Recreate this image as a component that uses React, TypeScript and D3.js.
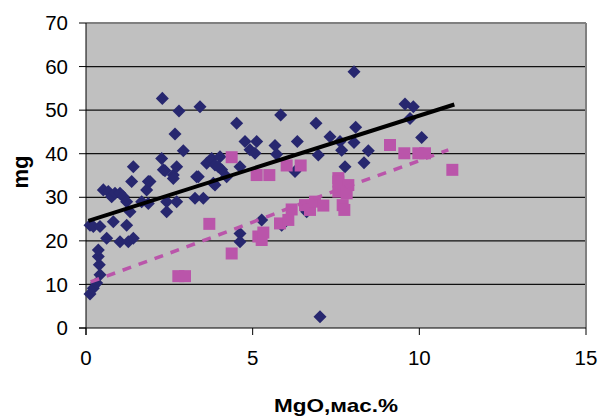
import React from "react";
import * as d3 from "d3";

// blue diamonds: [MgO, mg]
const diamondX = [
  0.12, 0.22, 0.32, 0.42, 0.4, 0.37, 0.37, 0.12, 0.22, 0.42, 0.62, 0.52, 0.67, 0.77, 0.87,
  1.02, 1.12, 1.22, 1.32, 0.82, 1.22, 1.02, 1.27, 1.42, 1.37, 1.42, 1.87, 1.82, 1.67, 1.87,
  2.32, 2.62, 2.72, 2.42, 2.42, 2.72, 3.32, 3.27, 3.52, 3.62, 3.82, 4.62, 4.62, 2.29, 2.79,
  3.42, 2.67, 2.92, 2.27, 2.37, 2.62, 1.92, 4.52, 4.77, 5.12, 4.92, 5.07, 3.77, 3.87, 4.07,
  4.02, 4.22, 3.97, 3.37, 3.87, 8.04, 5.84, 6.9, 8.09, 9.57, 9.82, 9.72, 10.07, 5.67, 5.72,
  6.34, 7.32, 7.62, 8.04, 6.97, 7.67, 8.47, 8.34, 7.77, 6.27, 4.62, 5.27, 5.87, 6.62, 7.02,
];
const diamondY = [
  7.8, 9.1, 10.3, 12.2, 14.5, 16.4, 17.9, 23.6, 23.3, 23.3, 20.6, 31.7, 31.3, 30.1, 30.9,
  30.9, 30.1, 29.0, 26.7, 24.4, 23.6, 19.8, 19.8, 20.6, 33.6, 37.0, 33.6, 31.7, 29.0, 28.6,
  36.3, 35.1, 37.0, 26.7, 29.0, 29.0, 34.7, 29.8, 29.8, 37.8, 33.2, 21.7, 19.8, 52.7, 49.8,
  50.8, 44.5, 40.7, 38.9, 36.1, 34.3, 33.6, 47.0, 42.8, 42.8, 40.9, 40.1, 38.9, 37.4, 36.3,
  39.3, 34.7, 37.0, 34.7, 32.8, 58.8, 48.9, 47.0, 46.1, 51.4, 50.8, 48.1, 43.7, 41.9, 39.9,
  42.8, 43.9, 42.8, 42.6, 39.7, 40.8, 40.7, 37.9, 37.0, 35.9, 37.0, 24.8, 23.6, 26.7, 2.6,
];

// pink squares
const squareX = [
  2.77, 2.97, 3.7, 4.37, 4.37, 5.12, 5.5, 5.17, 5.27, 5.32, 5.82, 6.07, 6.17, 6.02, 6.44,
  6.57, 6.72, 6.87, 7.12, 7.57, 7.57, 7.87, 7.57, 7.82, 7.7, 7.75, 9.12, 9.55, 9.97, 10.17, 10.99,
];
const squareY = [
  11.9, 11.9, 23.9, 17.1, 39.2, 35.1, 35.1, 21.0, 20.2, 21.9, 24.0, 24.8, 27.2, 37.3, 37.3,
  28.2, 27.1, 29.0, 28.1, 34.4, 33.6, 32.8, 31.3, 30.9, 28.2, 27.1, 42.0, 40.1, 40.1, 40.1, 36.3,
];

// trend lines
const blueTrendX = [0.07, 11.05];
const blueTrendY = [24.6, 51.3];
const pinkTrendX = [0.14, 2.37, 5.17, 7.27, 10.07, 10.87];
const pinkTrendY = [10.6, 16.8, 24.8, 30.9, 38.6, 40.9];

const xTicks = [0, 5, 10, 15];
const yTicks = [0, 10, 20, 30, 40, 50, 60, 70];

const width = 600;
const height = 416;
const left = 86;
const right = 586;
const top = 23;
const bottom = 328;

const navy = "#27276F";
const pink = "#BA55AA";

export default function App() {
  const x = d3.scaleLinear().domain([0, 15]).range([left, right]);
  const y = d3.scaleLinear().domain([0, 70]).range([bottom, top]);

  const line = d3
    .line<[number, number]>()
    .x((d) => x(d[0]))
    .y((d) => y(d[1]));
  const curve = d3
    .line<[number, number]>()
    .x((d) => x(d[0]))
    .y((d) => y(d[1]))
    .curve(d3.curveMonotoneX);

  const blueTrend = blueTrendX.map((v, i) => [v, blueTrendY[i]] as [number, number]);
  const pinkTrend = pinkTrendX.map((v, i) => [v, pinkTrendY[i]] as [number, number]);

  const diamond = d3.symbol().type(d3.symbolDiamond2).size(108)();
  const square = d3.symbol().type(d3.symbolSquare).size(144)();

  return (
    <svg
      width={width}
      height={height}
      style={{ position: "absolute", left: 0, top: 0, fontFamily: "Arial, 'Liberation Sans', sans-serif" }}
    >
      <rect x={0} y={0} width={width} height={height} fill="white" />
      <rect x={left} y={top} width={right - left} height={bottom - top} fill="#C0C0C0" />

      {yTicks.slice(1, -1).map((t) => (
        <line key={t} x1={left} x2={right} y1={y(t)} y2={y(t)} stroke="#111" strokeWidth={1.2} />
      ))}
      <line x1={left} x2={right} y1={top} y2={top} stroke="#808080" strokeWidth={2} />
      <line x1={right} x2={right} y1={top} y2={bottom} stroke="#808080" strokeWidth={2} />

      {yTicks.map((t) => (
        <g key={t}>
          <line x1={left - 7} x2={left} y1={y(t)} y2={y(t)} stroke="#000" />
          <text x={68} y={y(t)} dy="0.35em" textAnchor="end" fontSize={20.5}>
            {t}
          </text>
        </g>
      ))}
      {xTicks.map((t) => (
        <g key={t}>
          <line x1={x(t)} x2={x(t)} y1={bottom} y2={bottom + 7} stroke="#000" />
          <text x={x(t)} y={358} dy="0.35em" textAnchor="middle" fontSize={20.5}>
            {t}
          </text>
        </g>
      ))}
      <line x1={left} x2={left} y1={top} y2={bottom + 7} stroke="#000" />
      <line x1={left - 7} x2={right} y1={bottom} y2={bottom} stroke="#000" />

      {diamondX.map((v, i) => (
        <path key={`d${i}`} d={diamond!} transform={`translate(${x(v)},${y(diamondY[i])})`} fill={navy} />
      ))}
      {squareX.map((v, i) => (
        <path key={`s${i}`} d={square!} transform={`translate(${x(v)},${y(squareY[i])})`} fill={pink} />
      ))}

      <path d={line(blueTrend)!} fill="none" stroke="#000" strokeWidth={4} />
      <path d={curve(pinkTrend)!} fill="none" stroke={pink} strokeWidth={3.5} strokeDasharray="9 8" />

      <text x={336} y={405} dy="0.35em" textAnchor="middle" fontSize={19} fontWeight="bold" textLength={124} lengthAdjust="spacingAndGlyphs">
        MgO,мас.%
      </text>
      <text transform="translate(20,172) rotate(-90)" dy="0.35em" textAnchor="middle" fontSize={22} fontWeight="bold">
        mg
      </text>
    </svg>
  );
}
